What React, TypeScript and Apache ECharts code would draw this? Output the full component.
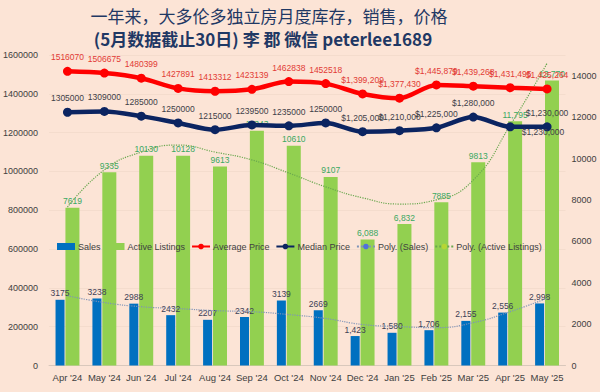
import React, { useEffect, useRef } from "react";
import * as echarts from "echarts";

const categories = ["Apr '24", "May '24", "Jun '24", "Jul '24", "Aug '24", "Sep '24", "Oct '24", "Nov '24", "Dec '24", "Jan '25", "Feb '25", "Mar '25", "Apr '25", "May '25"];
const sales = [3175, 3238, 2988, 2432, 2207, 2342, 3139, 2669, 1423, 1580, 1706, 2155, 2556, 2998];
const activeListings = [7619, 9335, 10130, 10128, 9613, 11343, 10610, 9107, 6088, 6832, 7885, 9813, 11795, 13770];
const averagePrice = [1516070, 1506675, 1480399, 1427891, 1413312, 1423139, 1462838, 1452518, 1399209, 1377430, 1445879, 1439268, 1431495, 1425264];
const medianPrice = [1305000, 1309000, 1285000, 1250000, 1215000, 1239500, 1235000, 1250000, 1205000, 1210000, 1225000, 1280000, 1230000, 1230000];
// trendlines
const polySales = [3370, 3040, 2840, 2750, 2650, 2600, 2460, 2270, 1980, 1880, 1830, 2070, 2600, 3250];
const polyListings = [7650, 9450, 10310, 10650, 10310, 9930, 9300, 8630, 8100, 7800, 8000, 8960, 11600, 14600];
const leftTicks = { min: 0, max: 1600000, interval: 200000 };
const rightTicks = { min: 0, max: 15000, interval: 2000 };
const dollarFrom = 8; // labels formatted with $ from Dec '24
const salesCommaFrom = 8;
const listingCommaIdx = [8, 9, 12, 13];

const FONT = "Liberation Sans";
const fmtComma = (v: number) => v.toLocaleString("en-US");

export default function App() {
  const ref = useRef<HTMLDivElement>(null);
  useEffect(() => {
    if (!ref.current) return;
    const chart = echarts.init(ref.current, undefined, { renderer: "svg" });
    const labelBase = { fontFamily: FONT, fontSize: 8.5 };
    chart.setOption({
      animation: false,
      backgroundColor: "#FCE4D6",
      title: [
        {
          text: "一年来，大多伦多独立房月度库存，销售，价格",
          left: 264,
          top: 2,
          textAlign: "center",
          textStyle: { fontFamily: "Noto Sans CJK SC", fontSize: 17, fontWeight: "normal", color: "#1F3864" },
        },
        {
          text: "(5月数据截止30日) 李 郡 微信 peterlee1689",
          left: 258,
          top: 25,
          textAlign: "center",
          textStyle: { fontFamily: "Noto Sans CJK SC", fontSize: 17, fontWeight: "bold", color: "#1F3864" },
        },
      ],
      legend: {
        left: 52,
        top: 237,
        itemWidth: 18,
        itemHeight: 7,
        itemGap: 6,
        textStyle: { fontFamily: FONT, fontSize: 9, color: "#404040", padding: [0, 0, 0, -2] },
        data: [
          { name: "Sales", icon: "rect" },
          { name: "Active Listings", icon: "rect" },
          { name: "Average Price" },
          { name: "Median Price" },
          { name: "Poly. (Sales)" },
          { name: "Poly. (Active Listings)" },
        ],
      },
      grid: { left: 47.5, right: 34.5, top: 55, bottom: 26.5 },
      xAxis: {
        type: "category",
        data: categories,
        axisTick: { show: false },
        axisLine: { lineStyle: { color: "#d9c8bc" } },
        axisLabel: { fontFamily: FONT, fontSize: 9.5, color: "#404040", margin: 7, interval: 0 },
      },
      yAxis: [
        {
          type: "value",
          ...leftTicks,
          axisLine: { show: false },
          axisTick: { show: false },
          splitLine: { lineStyle: { color: "#f4dccd", width: 1 } },
          axisLabel: { fontFamily: FONT, fontSize: 9, color: "#404040", margin: 11, formatter: (v: number) => String(v) },
        },
        {
          type: "value",
          ...rightTicks,
          axisLine: { show: false },
          axisTick: { show: false },
          splitLine: { show: false },
          axisLabel: { fontFamily: FONT, fontSize: 9, color: "#404040", margin: 6, showMaxLabel: false, formatter: (v: number) => String(v) },
        },
      ],
      series: [
        {
          name: "Sales",
          type: "bar",
          yAxisIndex: 1,
          data: sales,
          barWidth: 9,
          barGap: "10%",
          itemStyle: { color: "#0070C0" },
          label: {
            show: true,
            position: "top",
            distance: 2,
            ...labelBase,
            color: "#3d4155",
            formatter: (p: any) => (p.dataIndex >= salesCommaFrom ? fmtComma(p.value) : String(p.value)),
          },
          z: 2,
        },
        {
          name: "Active Listings",
          type: "bar",
          yAxisIndex: 1,
          data: activeListings,
          barWidth: 14,
          itemStyle: { color: "#92D050" },
          label: {
            show: true,
            position: "top",
            distance: 2,
            ...labelBase,
            color: "#3aa862",
            formatter: (p: any) => (listingCommaIdx.includes(p.dataIndex) ? fmtComma(p.value) : String(p.value)),
          },
          z: 2,
        },
        {
          name: "Poly. (Sales)",
          type: "line",
          yAxisIndex: 1,
          data: polySales,
          smooth: true,
          symbol: "none",
          lineStyle: { color: "#7f93b8", width: 1.2, type: "dotted" },
          z: 3,
        },
        {
          name: "Poly. (Active Listings)",
          type: "line",
          yAxisIndex: 1,
          data: polyListings,
          smooth: true,
          symbol: "none",
          lineStyle: { color: "#6aa84f", width: 1.2, type: "dotted" },
          z: 3,
        },
        {
          name: "Average Price",
          type: "line",
          yAxisIndex: 0,
          data: averagePrice,
          smooth: 0.3,
          symbol: "circle",
          symbolSize: 9,
          itemStyle: { color: "#FF0000" },
          lineStyle: { color: "#FF0000", width: 4.5 },
          label: {
            show: true,
            position: "top",
            distance: 5,
            ...labelBase,
            color: "#e23b35",
            formatter: (p: any) => (p.dataIndex >= dollarFrom ? "$" + fmtComma(p.value) : String(p.value)),
          },
          z: 5,
        },
        {
          name: "Median Price",
          type: "line",
          yAxisIndex: 0,
          data: medianPrice.map((v, i) =>
            i === 12
              ? { value: v, label: { position: "right", distance: 7, offset: [0, 5] } }
              : v
          ),
          smooth: 0.3,
          symbol: "circle",
          symbolSize: 9,
          itemStyle: { color: "#0B2461" },
          lineStyle: { color: "#0B2461", width: 4.5 },
          label: {
            show: true,
            position: "top",
            distance: 5,
            ...labelBase,
            color: "#404048",
            formatter: (p: any) => (p.dataIndex >= dollarFrom ? "$" + fmtComma(p.value) : String(p.value)),
          },
          z: 5,
        },
      ],
    });
    return () => chart.dispose();
  }, []);
  return <div ref={ref} style={{ position: "fixed", left: 0, top: 0, width: 600, height: 392 }} />;
}
